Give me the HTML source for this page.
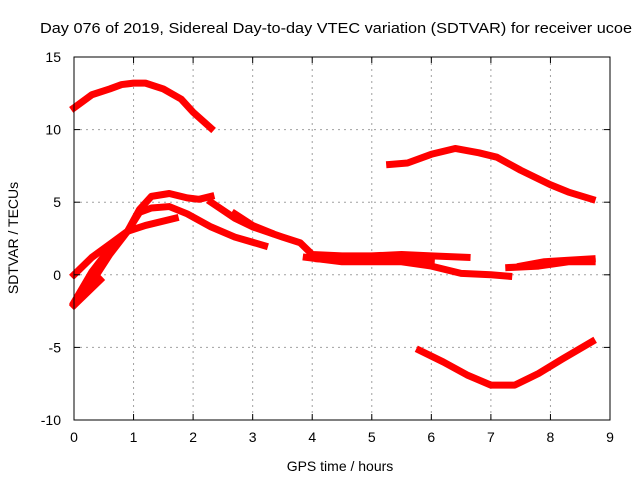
<!DOCTYPE html>
<html><head><meta charset="utf-8"><style>
body{margin:0;background:#fff;}
svg{display:block;font-family:"Liberation Sans",sans-serif;}
</style></head><body>
<svg id="chart" width="640" height="480">
<rect width="640" height="480" fill="#fff"/>
<text x="40" y="33" font-size="15" textLength="592" lengthAdjust="spacingAndGlyphs">Day 076 of 2019, Sidereal Day-to-day VTEC variation (SDTVAR) for receiver ucoe</text>
<text x="340" y="471" font-size="14" text-anchor="middle">GPS time / hours</text>
<text transform="translate(18,238) rotate(-90)" font-size="14" text-anchor="middle">SDTVAR / TECUs</text>
<g id="grid"></g><g id="series"></g><g id="axes"></g>
</svg>
<script>
const xTicks=[0,1,2,3,4,5,6,7,8,9];
const yTicks=[-10,-5,0,5,10,15];
const seriesA=[[0,11.5],[0.3,12.4],[0.6,12.8],[0.8,13.1],[1.0,13.2],[1.2,13.2],[1.5,12.8],[1.8,12.1],[2.0,11.2],[2.3,10.1]];
const seriesB=[[0,0],[0.3,1.2],[0.6,2.1],[0.9,3.0],[1.1,4.5],[1.3,5.4],[1.6,5.6],[1.9,5.3],[2.1,5.2],[2.3,5.4]];
const seriesC=[[0,-2],[0.3,-0.5],[0.6,1.4],[0.9,3.0],[1.1,4.3],[1.3,4.6],[1.6,4.7],[1.9,4.2],[2.3,3.3],[2.7,2.6],[3.2,2.0]];
const seriesD=[[0,-1.9],[0.3,0.2],[0.6,1.8],[0.9,3.0],[1.2,3.4],[1.7,3.9]];
const seriesD2=[[0,-2.1],[0.44,-0.35]];
const seriesE=[[2.3,5.0],[2.7,3.9],[3.0,3.3],[3.5,2.6],[3.8,2.2],[4.0,1.4],[4.5,1.3],[5.0,1.3],[5.5,1.4],[6.0,1.3],[6.6,1.2]];
const seriesE2=[[2.7,4.2],[3.0,3.4],[3.3,2.9]];
const seriesE3=[[4.1,1.1],[4.5,1.0],[5.0,1.0],[5.5,1.1],[6.0,1.0]];
const seriesF=[[3.9,1.2],[4.5,0.9],[5.0,0.9],[5.5,0.9],[6.0,0.6],[6.5,0.1],[7.0,0.0],[7.3,-0.1]];
const seriesF2=[[7.3,0.5],[7.8,0.6],[8.3,0.9],[8.7,0.9]];
const seriesF3=[[7.5,0.6],[7.9,0.9],[8.3,1.0],[8.7,1.1]];
const seriesG=[[5.3,7.6],[5.6,7.7],[6.0,8.3],[6.4,8.7],[6.8,8.4],[7.1,8.1],[7.5,7.2],[8.0,6.2],[8.3,5.7],[8.7,5.2]];
const seriesH=[[5.8,-5.2],[6.2,-6.0],[6.6,-6.9],[7.0,-7.6],[7.4,-7.6],[7.8,-6.8],[8.2,-5.8],[8.7,-4.6]];
const allSeries=[seriesA,seriesB,seriesC,seriesD,seriesD2,seriesE,seriesE2,seriesE3,seriesF,seriesF2,seriesF3,seriesG,seriesH];

const L=74,R=610,T=57,B=420,xmin=0,xmax=9,ymin=-10,ymax=15;
const X=h=>L+(h-xmin)/(xmax-xmin)*(R-L);
const Y=v=>B-(v-ymin)/(ymax-ymin)*(B-T);
const NS="http://www.w3.org/2000/svg";
function mk(tag,attrs,parent){const e=document.createElementNS(NS,tag);for(const k in attrs)e.setAttribute(k,attrs[k]);parent.appendChild(e);return e;}
const grid=document.getElementById('grid'),axes=document.getElementById('axes'),ser=document.getElementById('series');
xTicks.forEach(t=>{
  const x=X(t);
  if(t>xmin&&t<xmax){const g=mk('line',{x1:x,x2:x,y1:T,y2:B,stroke:'#a0a0a0','stroke-dasharray':'2,4'},grid);
  
  }
  const a=mk('line',{x1:x,x2:x,y1:B,y2:B-6,stroke:'#000'},axes);
  
  
  const b=mk('line',{x1:x,x2:x,y1:T,y2:T+6,stroke:'#000'},axes);
  
  
  const l=mk('text',{x:x,y:B+22,'font-size':14,'text-anchor':'middle'},axes);l.textContent=t;
  
  
});
yTicks.forEach(t=>{
  const y=Y(t);
  if(t>ymin&&t<ymax){const g=mk('line',{x1:L,x2:R,y1:y,y2:y,stroke:'#a0a0a0','stroke-dasharray':'2,4'},grid);
  
  }
  const a=mk('line',{x1:L,x2:L+6,y1:y,y2:y,stroke:'#000'},axes);
  
  
  const b=mk('line',{x1:R,x2:R-6,y1:y,y2:y,stroke:'#000'},axes);
  
  
  const l=mk('text',{x:L-13,y:y+5,'font-size':14,'text-anchor':'end'},axes);l.textContent=t;
  
  
});
const fr=mk('rect',{x:L,y:T,width:R-L,height:B-T,fill:'none',stroke:'#000'},axes);


allSeries.forEach(s=>{
  const p=mk('polyline',{points:s.map(d=>X(d[0])+','+Y(d[1])).join(' '),fill:'none',stroke:'#ff0000','stroke-width':7,'stroke-linejoin':'round','stroke-linecap':'square'},ser);
  
  
});
</script>
</body></html>
